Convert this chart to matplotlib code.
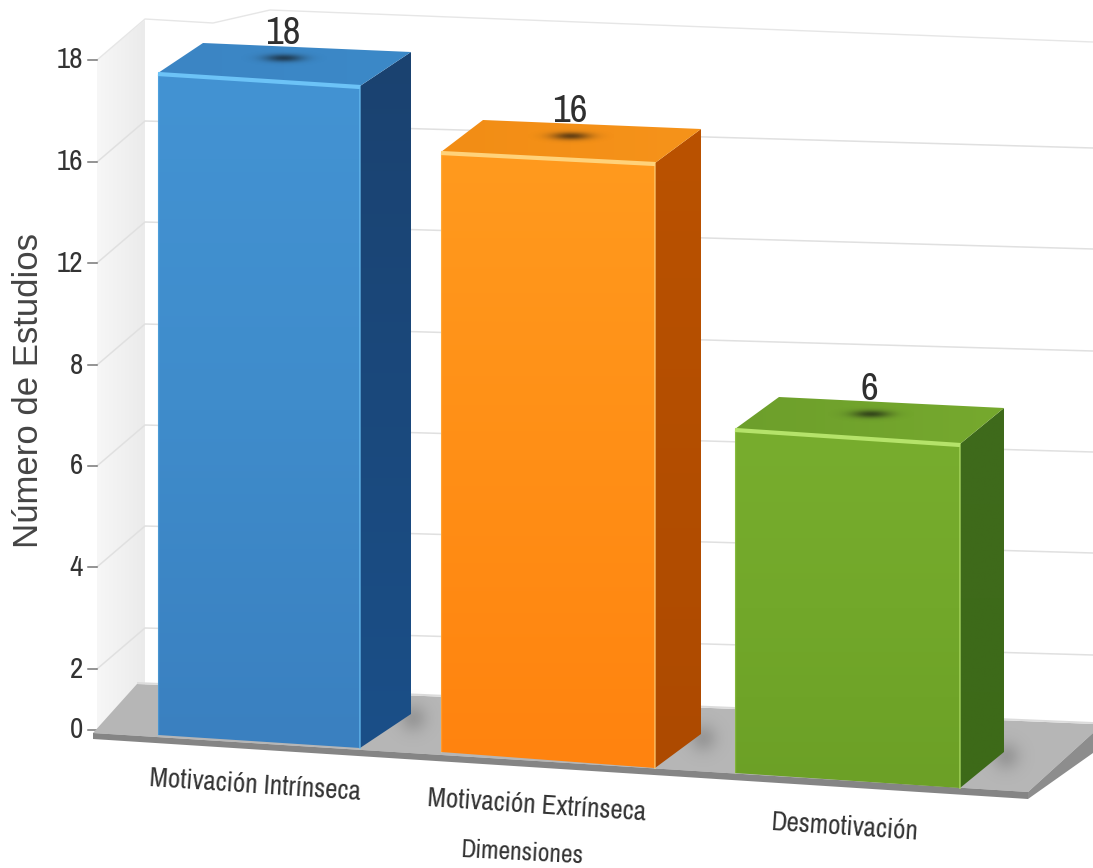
import numpy as np
import matplotlib
matplotlib.use("Agg")
import matplotlib.pyplot as plt
from matplotlib import font_manager as fm
from matplotlib.patches import Polygon
from matplotlib.colors import LinearSegmentedColormap

categories = ["Motivación Intrínseca", "Motivación Extrínseca", "Desmotivación"]
values = [18, 16, 6]
tick_labels = [0, 2, 4, 6, 8, 12, 16, 18]
x_title = "Dimensiones"
y_title = "Número de Estudios"

# pixel scales of the (non-linear) drawn axis
TICK_PX = [730, 669, 567, 466, 365, 263, 162, 60]
BAR_V = [0, 6, 16, 18]
BAR_H = [0, 344, 600, 662]
GEOM = [  # xl, xr, base yl, base yr, right-edge stretch, back-left dx,dy, back-right dx,dy, label xy
    (158, 360, 735, 748, 0, 45, -30, 51, -34, (255, 786)),
    (441, 655, 752, 768, 5, 42, -32, 46, -34, (537, 806)),
    (735, 960, 773, 788, 0, 44, -32, 44, -36, (844, 827)),
]
STYLE = [
    dict(front=["#4393d3", "#3f8ccb", "#3a80c0"], side=["#1a4270", "#1b4f88"], top=["#3b85c4", "#3c89c8"], hi="#6cc3f7"),
    dict(front=["#ff9a1e", "#ff8f16", "#ff830f"], side=["#ba5200", "#ad4a00"], top=["#f28d15", "#f6931a"], hi="#ffd27a"),
    dict(front=["#78ad2e", "#72a82a", "#6ca026"], side=["#3f6a1c", "#3d6a18"], top=["#6d9f2b", "#76a92e"], hi="#b5e36a"),
]

names = {f.name for f in fm.fontManager.ttflist}
has_narrow = "Archivo Narrow" in names
narrow = "Archivo Narrow" if has_narrow else "Liberation Sans"
scale = 1.0 if has_narrow else 0.85
wide = "Liberation Sans"

fig = plt.figure(figsize=(10.93, 8.68), dpi=100)
ax = fig.add_axes([0, 0, 1, 1])
ax.set_xlim(0, 1093)
ax.set_ylim(868, 0)
ax.axis("off")


def grad_poly(pts, colors, z, vertical=True):
    pts = np.array(pts, float)
    cmap = LinearSegmentedColormap.from_list("g", colors)
    g = np.linspace(0, 1, 128)
    g = g[:, None] if vertical else g[None, :]
    ext = (pts[:, 0].min(), pts[:, 0].max(), pts[:, 1].max(), pts[:, 1].min())
    im = ax.imshow(g, cmap=cmap, extent=ext, origin="upper", aspect="auto", zorder=z, interpolation="bilinear")
    p = Polygon(pts, closed=True, transform=ax.transData, fc="none", ec="none")
    ax.add_patch(p)
    im.set_clip_path(p)
    ax.set_xlim(0, 1093)
    ax.set_ylim(868, 0)


def blob(cx, cy, rx, ry, color, alpha, z):
    yy, xx = np.mgrid[-1.5:1.5:80j, -1.5:1.5:160j]
    a = np.exp(-(xx ** 2 + yy ** 2) * 2.4) * alpha
    rgba = np.zeros(a.shape + (4,))
    rgba[..., :3] = matplotlib.colors.to_rgb(color)
    rgba[..., 3] = a
    ax.imshow(rgba, extent=(cx - 1.5 * rx, cx + 1.5 * rx, cy + 1.5 * ry, cy - 1.5 * ry), aspect="auto", zorder=z)
    ax.set_xlim(0, 1093)
    ax.set_ylim(868, 0)


# walls
grad_poly([(97, 60), (145, 20), (145, 689), (97, 733)], ["#f7f7f7", "#ebebeb"], 1, vertical=False)

# gridlines
SLOPE = 27 / 948
GC = "#e0e0e0"
for v, ty in zip(tick_labels, TICK_PX):
    by = ty - 41
    if v == 18:
        ax.plot([97, 145, 213, 270, 1093], [ty, by, 23, 10, 42], color="#e6e6e6", lw=1, zorder=2)
    elif v != 0:
        ax.plot([97, 145, 1093], [ty, by, by + 948 * SLOPE], color=GC, lw=1.1, zorder=2)
    ax.plot([88, 97], [ty, ty], color="#777777", lw=1.1, zorder=2)
    ax.text(83, ty, str(v), ha="right", va="center", fontsize=21 * scale, color="#333333", family=narrow, zorder=6)

# floor
ax.add_patch(Polygon([(93, 733), (137, 684), (1093, 724), (1093, 733), (1028, 792)], fc="#b6b6b6", ec="none", zorder=3))
ax.add_patch(Polygon([(93, 733), (1028, 792), (1028, 799), (93, 739)], fc="#858585", ec="none", zorder=3))
ax.add_patch(Polygon([(1028, 792), (1093, 733), (1093, 753), (1028, 799)], fc="#8d8d8d", ec="none", zorder=3))
ax.add_patch(Polygon([(137, 684), (1093, 724), (1093, 722), (137, 682)], fc="#dcdcdc", ec="none", zorder=3))

# bars
for val, cat, g, st in zip(values, categories, GEOM, STYLE):
    xl, xr, yl, yr, stretch, ldx, ldy, rdx, rdy, lab = g
    h = np.interp(val, BAR_V, BAR_H)
    tl, tr = yl - h, yr - h - stretch
    bl = (xl + ldx, tl + ldy)
    br = (xr + rdx, tr + rdy)
    # floor shadow beside the bar
    blob(xr + rdx + 2, yr + rdy + 4, 22, 22, "#555555", 0.3, 3.5)
    grad_poly([(xr, tr), br, (xr + rdx, yr + rdy), (xr, yr)], st["side"], 5)
    grad_poly([(xl, tl), bl, br, (xr, tr)], st["top"], 5, vertical=False)
    grad_poly([(xl, tl), (xr, tr), (xr, yr), (xl, yl)], st["front"], 5)
    ax.plot([xl, xr], [tl + 1, tr + 1], color=st["hi"], lw=3, zorder=5.5, solid_capstyle="butt")
    ax.plot([xr, xr], [tr, yr], color=st["hi"], lw=1.4, alpha=0.6, zorder=5.5)
    ax.plot([xl, xl], [tl, yl], color=st["hi"], lw=1.0, alpha=0.3, zorder=5.5)
    cx = (xl + xr + bl[0] + br[0]) / 4 + 1
    cy = (tl + tr + bl[1] + br[1]) / 4 - 5
    blob(cx, cy, 30, 6, "#111111", 0.62, 5.7)
    ax.text(cx - 1, cy - 14, str(val), ha="center", va="baseline", fontsize=28 * scale, color="#2f2f2f",
            family=narrow, zorder=7)
    ax.text(lab[0], lab[1], cat, ha="center", va="center", fontsize=19.4 * scale,
            color="#333333", family=narrow, rotation=-3.8, rotation_mode="anchor", zorder=7)

ax.text(522, 853, x_title, ha="center", va="center", fontsize=18.3 * scale, color="#333333", family=narrow,
        rotation=-3, rotation_mode="anchor", zorder=7)
ax.text(29, 390, y_title, ha="center", va="center", rotation=90, fontsize=25, color="#444444", family=wide, zorder=7)

fig.savefig("out.png", dpi=100)
